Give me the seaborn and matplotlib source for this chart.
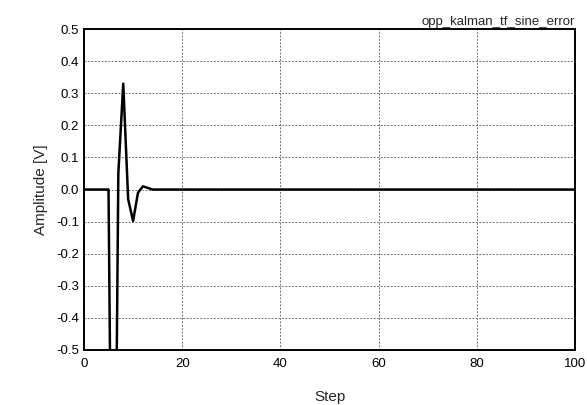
import numpy as np
import pandas as pd
import seaborn as sns
from matplotlib import pyplot as plt
from matplotlib.ticker import MultipleLocator

# values
steps = list(range(0, 101))
error_head = [0.0, 0.0, 0.0, 0.0, 0.0, 0.0, -1.7, 0.05, 0.33, -0.03,
              -0.098, -0.01, 0.01, 0.005, 0.0]
error = error_head + [0.0] * (len(steps) - len(error_head))

df = pd.DataFrame({"Step": steps, "Amplitude [V]": error})

sns.set_theme(style="white")
plt.rcParams['font.family'] = ['Liberation Sans', 'DejaVu Sans']

fig = plt.figure(figsize=(5.87, 4.05), dpi=100)
ax = fig.add_axes([0.143, 0.136, 0.837, 0.792])

sns.lineplot(data=df, x="Step", y="Amplitude [V]", color="black", linewidth=1.8, ax=ax)

ax.set_xlim(0, 100)
ax.set_ylim(-0.5, 0.5)
ax.xaxis.set_major_locator(MultipleLocator(20))
ax.xaxis.set_minor_locator(MultipleLocator(10))
ax.yaxis.set_major_locator(MultipleLocator(0.1))
ax.yaxis.set_minor_locator(MultipleLocator(0.05))
ax.set_yticklabels([f"{v:.1f}" for v in ax.get_yticks()])

ax.grid(True, which="major", color="0.45", linestyle=(0, (2, 1.5)), linewidth=0.7)
ax.tick_params(which="both", direction="in", top=False, right=False, colors="black",
               labelsize=9.5)
ax.tick_params(which="major", length=4, width=1)
ax.tick_params(which="minor", length=2.5, width=1)
ax.tick_params(axis="x", pad=6)

for side in ["left", "bottom", "right", "top"]:
    ax.spines[side].set_color("black")
    ax.spines[side].set_linewidth(1.4)

ax.set_xlabel("Step", fontsize=11, labelpad=14)
ax.set_ylabel("Amplitude [V]", fontsize=11, labelpad=6)
ax.set_title("opp_kalman_tf_sine_error", loc="right", fontsize=9.5, pad=3)

plt.savefig("out.png", dpi=100)
